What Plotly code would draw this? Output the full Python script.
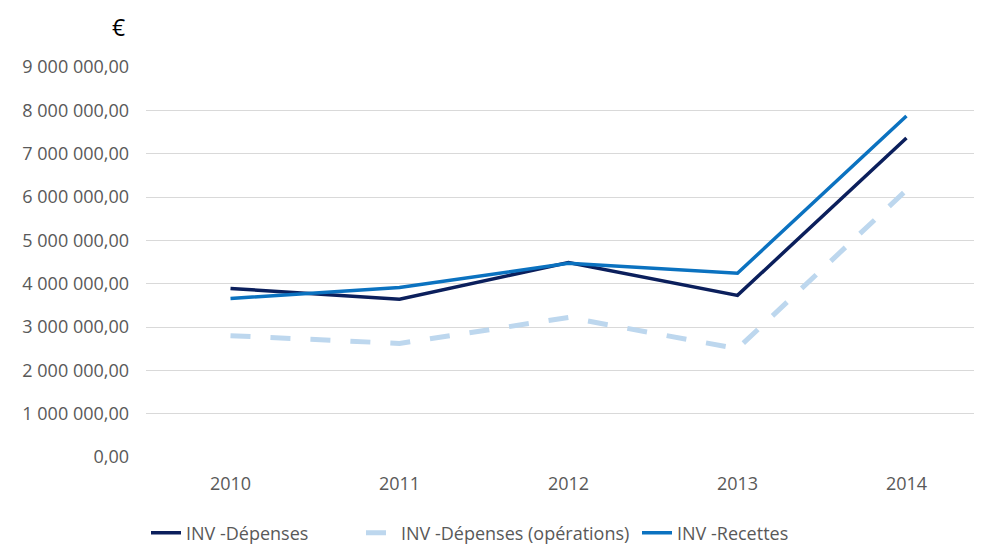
import plotly.graph_objects as go

years = ["2010", "2011", "2012", "2013", "2014"]
depenses = [3890000, 3640000, 4490000, 3730000, 7360000]
depenses_ops = [2800000, 2620000, 3220000, 2500000, 6160000]
recettes = [3660000, 3910000, 4470000, 4240000, 7870000]
y_ticks = [0, 1000000, 2000000, 3000000, 4000000, 5000000, 6000000, 7000000, 8000000, 9000000]
y_tick_labels = ["0,00", "1 000 000,00", "2 000 000,00", "3 000 000,00", "4 000 000,00",
                 "5 000 000,00", "6 000 000,00", "7 000 000,00", "8 000 000,00", "9 000 000,00"]

font_family = "Open Sans, Liberation Sans, sans-serif"

# page has an 8px body margin; figure coordinates = page coordinates - 8
OFF = 8
W, H = 982 - OFF, 547 - OFF
ML, MR, MT = 146 - OFF, 0, 67 - OFF
MB = H - (457 - OFF)
PW, PH = W - ML - MR, H - MT - MB

fig = go.Figure()
fig.add_trace(go.Scatter(x=list(range(len(years))), y=depenses, mode="lines",
                         name="INV -Dépenses", legendwidth=170,
                         line=dict(color="#0B1F5C", width=3.5)))
fig.add_trace(go.Scatter(x=list(range(len(years))), y=depenses_ops, mode="lines",
                         name="INV -Dépenses (opérations)", legendwidth=231,
                         line=dict(color="#BDD7EE", width=5, dash="20px,20px")))
fig.add_trace(go.Scatter(x=list(range(len(years))), y=recettes, mode="lines",
                         name="INV -Recettes", line=dict(color="#0B72C0", width=3.5)))

fig.update_layout(
    width=W, height=H,
    margin=dict(l=ML, r=MR, t=MT, b=MB, autoexpand=False),
    plot_bgcolor="white", paper_bgcolor="white",
    font=dict(family=font_family, size=18, color="#595959"),
    xaxis=dict(tickmode="array", tickvals=list(range(len(years))), ticktext=years,
               range=[-0.5, 4.447], showgrid=False, zeroline=False, showline=False,
               ticks="", ticklabelstandoff=14, automargin=False),
    yaxis=dict(tickmode="array", tickvals=y_ticks, ticktext=y_tick_labels,
               range=[0, 9000000], showgrid=True, gridcolor="#D9D9D9", gridwidth=1.3,
               zeroline=False, showline=False, ticks="", ticklabelstandoff=16,
               automargin=False),
    legend=dict(orientation="h", x=0, xanchor="left",
                yref="container", y=(H - (533 - OFF)) / H, yanchor="middle",
                font=dict(size=18, color="#595959"), tracegroupgap=0),
    annotations=[dict(text="€", x=(118 - 146) / PW, y=(457 - 10) / PH,
                      xref="paper", yref="paper", xanchor="center", yanchor="top",
                      borderpad=0, showarrow=False,
                      font=dict(size=23, color="#000000"))],
)

fig.write_html("out.html")
